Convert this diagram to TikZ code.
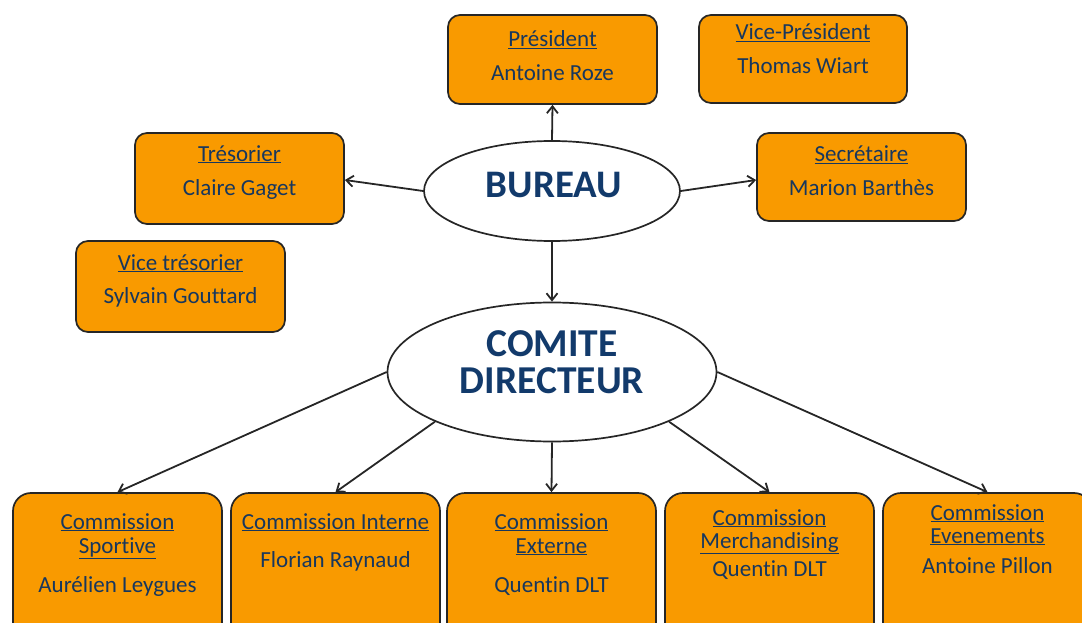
\documentclass[tikz,border=0pt]{standalone}
\usepackage{fontspec}
\setmainfont{Carlito}[RawFeature={-liga;-clig;-calt;-dlig}]
\usetikzlibrary{shapes.geometric,arrows.meta}
\definecolor{boxorange}{HTML}{F99A00}
\definecolor{txtblue}{HTML}{17375E}
\definecolor{headblue}{HTML}{123A6B}
\begin{document}
\begin{tikzpicture}[x=1pt,y=-1pt,
  box/.style={draw=black!85, line width=1.7pt, fill=boxorange, rounded corners=12pt, inner sep=0pt, minimum width=209pt},
  bbox/.style={box, rounded corners=18pt, minimum height=150pt},
  lbl/.style={text=txtblue, font=\fontsize{23}{24}\selectfont, anchor=base, inner sep=0pt},
  ell/.style={ellipse, draw=black!85, line width=1.7pt, fill=white, inner sep=0pt},
  head/.style={text=headblue, anchor=base, inner sep=0pt, font=\fontsize{39.5}{36}\selectfont\bfseries},
  arr/.style={-{Straight Barb[length=7pt,width=11pt]}, line width=1.8pt, draw=black!85}]
\useasboundingbox (0,0) rectangle (1082,623);
\clip (0,0) rectangle (1082,623);
% top boxes
\node[box, minimum height=89pt] (pres) at (552.5,59.5) {};
\node[box, minimum height=88pt, minimum width=208pt] (vpres) at (803,59) {};
\node[box, minimum height=91pt] (tres) at (239.5,178.5) {};
\node[box, minimum height=88pt] (secr) at (861.5,177) {};
\node[box, minimum height=91pt] (vtres) at (180.5,286.5) {};
% ellipses
\node[ell, minimum width=256pt, minimum height=100pt] (bureau) at (552,191) {};
\node[ell, minimum width=329pt, minimum height=139pt] (comite) at (552,372) {};
\node[head, font=\fontsize{39}{36}\selectfont\bfseries] (bureauT) at (554,197) {BUREAU};
\node[head] (comiteT1) at (552,356.5) {COMITE};
\node[head] (comiteT2) at (552,393.5) {DIRECTEUR};
% bottom boxes
\node[bbox] (spo) at (117.5,568) {};
\node[bbox] (int) at (335.5,568) {};
\node[bbox] (ext) at (551.5,568) {};
\node[bbox] (mer) at (769.5,568) {};
\node[bbox] (eve) at (987.5,568) {};
% labels top
\node[lbl] (presT) at (552.5,47) {\underline{Président}};
\node[lbl] (presN) at (552.5,81) {Antoine Roze};
\node[lbl] (vpresT) at (803,40) {\underline{Vice-Président}};
\node[lbl] (vpresN) at (803,74) {Thomas Wiart};
\node[lbl] (tresT) at (239.5,161) {\underline{Trésorier}};
\node[lbl] (tresN) at (239.5,195) {Claire Gaget};
\node[lbl] (secrT) at (861.5,162) {\underline{Secrétaire}};
\node[lbl] (secrN) at (861.5,196) {Marion Barthès};
\node[lbl] (vtresT) at (180.5,270) {\underline{Vice trésorier}};
\node[lbl] (vtresN) at (180.5,303) {Sylvain Gouttard};
% labels bottom
\node[lbl] (spoT1) at (117.5,529) {\underline{Commission}};
\node[lbl] (spoT2) at (117.5,553) {\underline{Sportive}};
\node[lbl] (spoN) at (117.5,592) {Aurélien Leygues};
\node[lbl] (intT) at (335.5,529) {\underline{Commission Interne}};
\node[lbl] (intN) at (335.5,567) {Florian Raynaud};
\node[lbl] (extT1) at (551.5,529) {\underline{Commission}};
\node[lbl] (extT2) at (551.5,553) {\underline{Externe}};
\node[lbl] (extN) at (551.5,592) {Quentin DLT};
\node[lbl] (merT1) at (769.5,525) {\underline{Commission}};
\node[lbl] (merT2) at (769.5,548) {\underline{Merchandising}};
\node[lbl] (merN) at (769.5,576) {Quentin DLT};
\node[lbl] (eveT1) at (987.5,520) {\underline{Commission}};
\node[lbl] (eveT2) at (987.5,543) {\underline{Evenements}};
\node[lbl] (eveN) at (987.5,573) {Antoine Pillon};
% arrows
\draw[arr] (bureau.north) -- (pres.south);
\draw[arr] (bureau.west) -- ([yshift=-1.5pt]tres.east);
\draw[arr] (bureau.east) -- ([yshift=-3pt]secr.west);
\draw[arr] (bureau.south) -- (comite.north);
\draw[arr] (comite.west) -- (spo.north);
\draw[arr] (comite.203.7) -- (int.north);
\draw[arr] (comite.south) -- (ext.north);
\draw[arr] (comite.337.3) -- (mer.north);
\draw[arr] (comite.east) -- (eve.north);
\end{tikzpicture}
\end{document}
